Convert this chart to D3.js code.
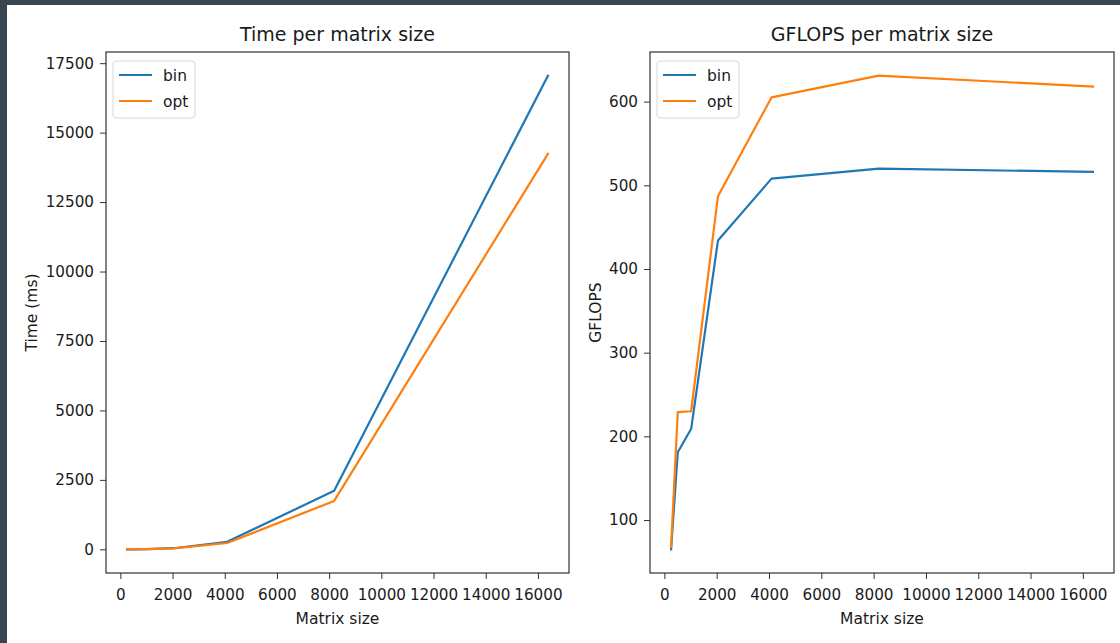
<!DOCTYPE html>
<html>
<head>
<meta charset="utf-8">
<style>
    body { margin: 0; background: #ffffff; }
    svg text { font-family: "DejaVu Sans", sans-serif; fill: #1a1a1a; }
</style>
</head>
<body>
<script src="https://cdn.jsdelivr.net/npm/d3@7"></script>
<script>
    // matrix sizes
    var sizes = [256, 512, 1024, 2048, 4096, 8192, 16384];
    // time (ms)
    var timeBin = [0.5, 1.5, 10, 40, 270, 2110, 17050];
    var timeOpt = [0.5, 1.2, 9, 35, 227, 1742, 14240];
    // GFLOPS
    var gflopsBin = [65, 181, 209, 434, 508, 520, 516];
    var gflopsOpt = [68, 229, 230, 487, 605, 631, 618];

    var seriesNames = ["bin", "opt"];
    var colors = ["#1f77b4", "#ff7f0e"];
    var xTicks = [0, 2000, 4000, 6000, 8000, 10000, 12000, 14000, 16000];
    var timeTicks = [0, 2500, 5000, 7500, 10000, 12500, 15000, 17500];
    var gflopsTicks = [100, 200, 300, 400, 500, 600];

    var W = 1120, H = 643;
    var svg = d3.select("body").append("svg")
        .attr("width", W).attr("height", H);

    svg.append("rect").attr("width", W).attr("height", H).attr("fill", "#36454f");
    svg.append("rect").attr("x", 7).attr("y", 5).attr("width", W - 7).attr("height", H - 5).attr("fill", "#ffffff");

    // matplotlib-like 5% margins
    function padded(lo, hi) {
        var m = (hi - lo) * 0.05;
        return [lo - m, hi + m];
    }

    function drawPanel(opts) {
        var x = d3.scaleLinear().domain(padded(d3.min(sizes), d3.max(sizes)))
            .range([opts.left, opts.right]);
        var allY = opts.series[0].concat(opts.series[1]);
        var y = d3.scaleLinear().domain(padded(d3.min(allY), d3.max(allY)))
            .range([opts.bottom, opts.top]);

        var g = svg.append("g");

        var xAxis = g.append("g")
            .attr("transform", "translate(0," + opts.bottom + ")")
            .call(d3.axisBottom(x).tickValues(xTicks).tickFormat(d3.format("d")).tickSizeOuter(0).tickSize(6).tickPadding(10));
        var yAxis = g.append("g")
            .attr("transform", "translate(" + opts.left + ",0)")
            .call(d3.axisLeft(y).tickValues(opts.yTicks).tickFormat(d3.format("d")).tickSizeOuter(0).tickSize(6).tickPadding(6));
        [xAxis, yAxis].forEach(function (a) {
            a.select(".domain").remove();
            a.selectAll("line").attr("stroke", "#333").attr("stroke-width", 1);
            a.selectAll("text").attr("font-size", 15.2).attr("fill", "#1a1a1a")
                .style("font-family", "DejaVu Sans, sans-serif");
        });

        var line = d3.line()
            .x(function (d, i) { return x(sizes[i]); })
            .y(function (d) { return y(d); });

        opts.series.forEach(function (s, k) {
            g.append("path")
                .datum(s)
                .attr("d", line)
                .attr("fill", "none")
                .attr("stroke", colors[k])
                .attr("stroke-width", 2.2)
                .attr("stroke-linejoin", "round")
                .attr("stroke-linecap", "square");
        });

        // frame
        g.append("rect")
            .attr("x", opts.left).attr("y", opts.top)
            .attr("width", opts.right - opts.left).attr("height", opts.bottom - opts.top)
            .attr("fill", "none").attr("stroke", "#333").attr("stroke-width", 1.2);

        // title
        g.append("text")
            .attr("x", (opts.left + opts.right) / 2).attr("y", 41)
            .attr("text-anchor", "middle").attr("font-size", 19)
            .text(opts.title);

        // axis labels
        g.append("text")
            .attr("x", (opts.left + opts.right) / 2).attr("y", 624)
            .attr("text-anchor", "middle").attr("font-size", 15.5)
            .text("Matrix size");
        g.append("text")
            .attr("transform", "translate(" + opts.ylabelX + "," + ((opts.top + opts.bottom) / 2) + ") rotate(-90)")
            .attr("text-anchor", "middle").attr("font-size", 15.5)
            .text(opts.ylabel);

        // legend
        var lg = g.append("g").attr("transform", "translate(" + (opts.left + 7) + "," + (opts.top + 9) + ")");
        lg.append("rect")
            .attr("width", 82).attr("height", 57).attr("rx", 3)
            .attr("fill", "#ffffff").attr("fill-opacity", 0.8)
            .attr("stroke", "#d8d8d8").attr("stroke-width", 1);
        seriesNames.forEach(function (name, k) {
            var yy = 14 + k * 26;
            lg.append("line")
                .attr("x1", 6).attr("x2", 39).attr("y1", yy).attr("y2", yy)
                .attr("stroke", colors[k]).attr("stroke-width", 2.2);
            lg.append("text")
                .attr("x", 50).attr("y", yy + 6)
                .attr("font-size", 15.5)
                .text(name);
        });
    }

    drawPanel({
        left: 106, right: 569, top: 52, bottom: 573,
        series: [timeBin, timeOpt],
        yTicks: timeTicks,
        title: "Time per matrix size",
        ylabel: "Time (ms)",
        ylabelX: 37
    });

    drawPanel({
        left: 650, right: 1114, top: 52, bottom: 573,
        series: [gflopsBin, gflopsOpt],
        yTicks: gflopsTicks,
        title: "GFLOPS per matrix size",
        ylabel: "GFLOPS",
        ylabelX: 601
    });
</script>
</body>
</html>
